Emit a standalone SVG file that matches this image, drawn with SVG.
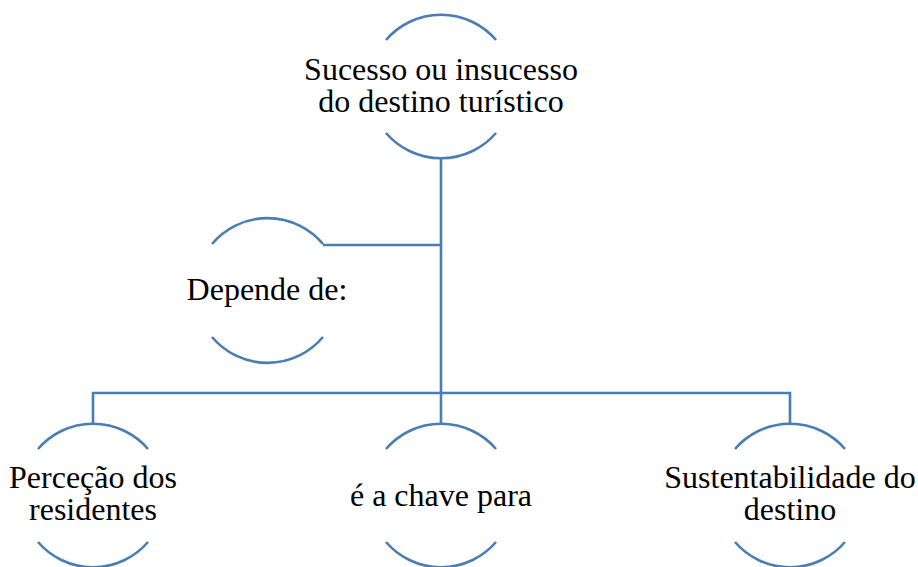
<svg xmlns="http://www.w3.org/2000/svg" width="918" height="567" viewBox="0 0 918 567">
<style>
.arc{fill:none;stroke:#4a7db3;stroke-width:2.6}
.con{fill:none;stroke:#4a7db3;stroke-width:2.6}
</style>
<rect width="918" height="567" fill="#fff"/>
<g id="connectors">
<path class="con" d="M441 159 V423"/>
<path class="con" d="M323 245 H441"/>
<path class="con" d="M93 423 V393 H790 V423"/>
</g>
<g id="node-top">
<path class="arc" d="M386 40 A72.5 72.5 0 0 1 496 40"/>
<path class="arc" d="M386 133 A72.5 72.5 0 0 0 496 133"/>
<text x="441" y="80" font-family="Times New Roman, Liberation Serif, serif" font-size="32" text-anchor="middle">Sucesso ou insucesso</text>
<text x="441" y="112" font-family="Times New Roman, Liberation Serif, serif" font-size="32" text-anchor="middle">do destino turístico</text>
</g>
<g id="node-depende">
<path class="arc" d="M212 244 A72.5 72.5 0 0 1 323 244"/>
<path class="arc" d="M212 337 A72.5 72.5 0 0 0 323 337"/>
<text x="267" y="300" font-family="Times New Roman, Liberation Serif, serif" font-size="32" text-anchor="middle">Depende de:</text>
</g>
<g id="node-percecao">
<path class="arc" d="M38 449 A72.5 72.5 0 0 1 148 449"/>
<path class="arc" d="M38 542 A72.5 72.5 0 0 0 148 542"/>
<text x="93" y="488" font-family="Times New Roman, Liberation Serif, serif" font-size="32" text-anchor="middle">Perceção dos</text>
<text x="93" y="520" font-family="Times New Roman, Liberation Serif, serif" font-size="32" text-anchor="middle">residentes</text>
</g>
<g id="node-chave">
<path class="arc" d="M386 449 A72.5 72.5 0 0 1 496 449"/>
<path class="arc" d="M386 542 A72.5 72.5 0 0 0 496 542"/>
<text x="441" y="506" font-family="Times New Roman, Liberation Serif, serif" font-size="32" text-anchor="middle">é a chave para</text>
</g>
<g id="node-sustentabilidade">
<path class="arc" d="M735 449 A72.5 72.5 0 0 1 845 449"/>
<path class="arc" d="M735 542 A72.5 72.5 0 0 0 845 542"/>
<text x="790" y="488" font-family="Times New Roman, Liberation Serif, serif" font-size="32" text-anchor="middle">Sustentabilidade do</text>
<text x="790" y="520" font-family="Times New Roman, Liberation Serif, serif" font-size="32" text-anchor="middle">destino</text>
</g>
</svg>
